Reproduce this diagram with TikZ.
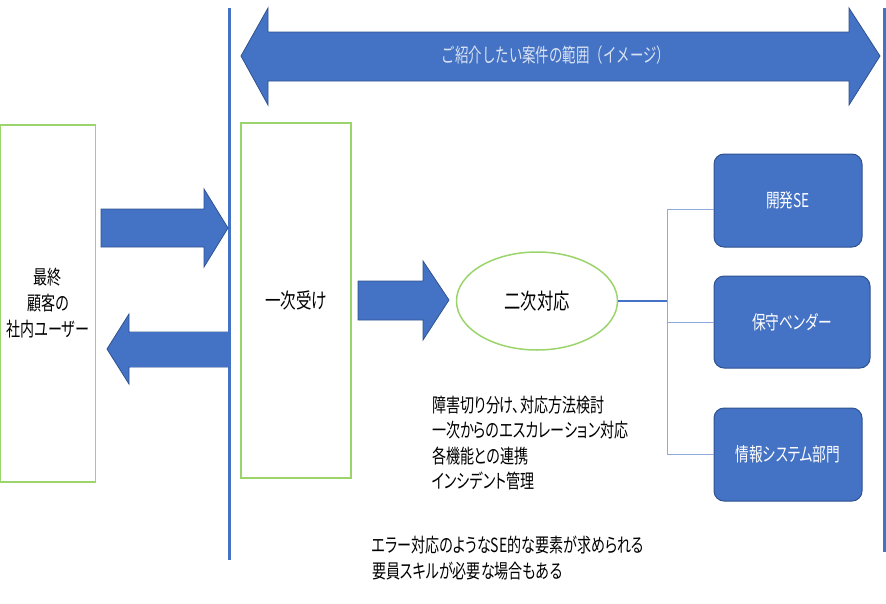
\documentclass[tikz,border=0pt]{standalone}
\usepackage{fontspec}
\newfontfamily\cjk[FakeStretch=0.72,RawFeature=+palt]{Noto Sans CJK JP}
\newfontfamily\cjkn[FakeStretch=0.69]{Noto Sans CJK JP}
\newfontfamily\cjkb[FakeStretch=0.74,RawFeature=+palt]{Noto Sans CJK JP}
\usetikzlibrary{shapes.geometric}
\definecolor{blu}{HTML}{4472C4}
\definecolor{dblu}{HTML}{2F528F}
\definecolor{lblu}{HTML}{8FAADC}
\definecolor{grn}{HTML}{9BD46A}
\definecolor{pale}{HTML}{DAE3F3}
\tikzset{
  gbox/.style={draw=grn, line width=1.5pt, rectangle, align=center, inner sep=0pt},
  rbox/.style={draw=dblu, line width=1pt, fill=blu, rounded corners=10pt, text=white, align=center, inner sep=0pt, font=\cjk\fontsize{19}{22}\selectfont},
  blockarrow/.style={fill=blu, draw=dblu, line width=0.8pt},
  vline/.style={draw=blu, line width=3pt},
  conn/.style={draw=lblu, line width=1pt},
  txt/.style={font=\cjk\fontsize{19.5}{25.3}\selectfont, align=left, inner sep=0pt}
}
\begin{document}
\begin{tikzpicture}[x=1pt,y=-1pt, font=\cjk]
\useasboundingbox (0,0) rectangle (886,603);
% vertical dividers
\draw[vline] (229,8) -- (229,560);
\draw[vline] (884,8) -- (884,552);
% top double arrow
\draw[blockarrow] (241,56) -- (268,8) -- (268,32) -- (849,32) -- (849,8) -- (880,56) -- (849,105) -- (849,81) -- (268,81) -- (268,105) -- cycle;
\node[text=pale, font=\cjkn\fontsize{19.5}{22}\selectfont] (scope) at (556,55) {ご紹介したい案件の範囲（イメージ）};
% left box
\node[gbox, minimum width=95pt, minimum height=357pt, font=\cjk\fontsize{19.5}{26}\selectfont] (user) at (48,303.5) {最終\\顧客の\\社内ユーザー};
% arrows between user and first line
\draw[blockarrow] (101,209) -- (204,209) -- (204,189) -- (228,228) -- (204,267) -- (204,247) -- (101,247) -- cycle;
\draw[blockarrow] (228,332) -- (129,332) -- (129,314) -- (107,349) -- (129,384) -- (129,367) -- (228,367);
\fill[blu] (228,332) rectangle (130,367);
% first line box
\node[gbox, minimum width=110pt, minimum height=355pt, font=\cjkb\fontsize{21}{24}\selectfont] (first) at (296,300.5) {一次受け};
% middle arrow
\draw[blockarrow] (358,281) -- (423,281) -- (423,261) -- (449,300) -- (423,340) -- (423,320) -- (358,320) -- cycle;
% second line ellipse
\node[draw=grn, line width=1.5pt, ellipse, minimum width=161pt, minimum height=98pt, inner sep=0pt, font=\cjkb\fontsize{22}{24}\selectfont] (second) at (537,301) {二次対応};
% right boxes
\node[rbox, minimum width=148pt, minimum height=93pt] (dev) at (788,200.5) {開発SE};
\node[rbox, minimum width=156pt, minimum height=92pt] (vendor) at (792,322) {保守ベンダー};
\node[rbox, minimum width=148pt, minimum height=93pt] (info) at (788,454.5) {情報システム部門};
% connectors
\coordinate (j) at (667,301);
\draw[blu, line width=2pt] (second.east) -- (j);
\draw[conn] (j) |- ([yshift=-8.5pt]dev.west);
\draw[conn] (j) |- (vendor.west);
\draw[conn] (j) |- (info.west);
% description texts
\node[txt, anchor=north west] (desc) at (432,396) {障害切り分け、対応方法検討\\一次からのエスカレーション対応\\各機能との連携\\インシデント管理};
\node[txt, anchor=north west] (note) at (372,536) {エラー対応のようなSE的な要素が求められる\\要員スキルが必要な場合もある};
\end{tikzpicture}
\end{document}
